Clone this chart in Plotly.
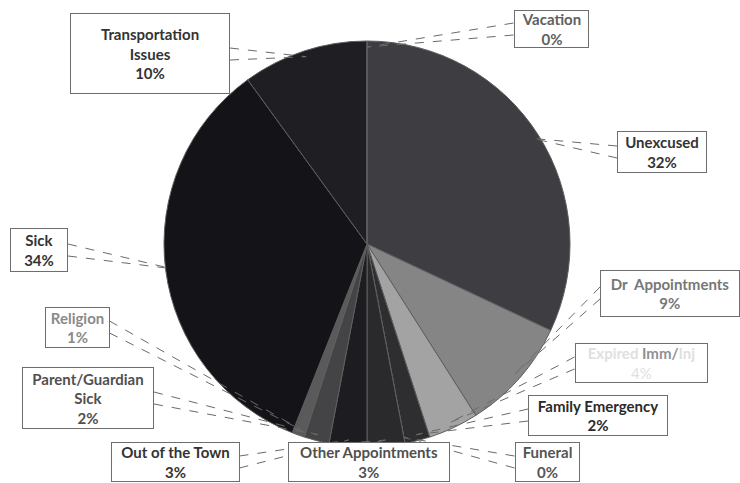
import math
import plotly.graph_objects as go

# ---- data ----
categories = ["Unexcused", "Dr  Appointments", "Expired Imm/Inj", "Family Emergency", "Funeral",
              "Other Appointments", "Out of the Town", "Parent/Guardian Sick", "Religion",
              "Sick", "Transportation Issues", "Vacation"]
values = [32, 9, 4, 2, 0, 3, 3, 2, 1, 34, 10, 0]
label_text = ["Unexcused", "Dr  Appointments",
              "<span style='color:#e0e0e0'>Expired</span> Imm/<span style='color:#e0e0e0'>Inj</span>",
              "Family Emergency", "Funeral", "Other Appointments", "Out of the Town",
              "Parent/Guardian<br>Sick", "Religion", "Sick", "Transportation<br>Issues", "Vacation"]
slice_colors = ["#3d3d42", "#858585", "#a3a3a3", "#2e2e30", "#333333", "#2a2a2d",
                "#1d1d21", "#444446", "#5a5a5a", "#141418", "#1f1f23", "#333333"]
text_colors = ["#333333", "#777777", "#909090", "#2a2a2a", "#555555", "#505050", "#333333",
               "#505050", "#8a8a8a", "#333333", "#333333", "#606060"]

# ---- layout (pixels, top-down) ----
W, H = 740, 483
CX, CY, R = 367, 244, 203
# box centre x, centre y, width, height, side where leader attaches
boxes = [
    (662, 152, 90, 42, "left"),
    (670, 293, 140, 47, "left"),
    (641, 363, 133, 40, "left"),
    (598, 415, 140, 41, "left"),
    (547, 462, 65, 40, "left"),
    (369, 462, 162, 40, "top"),
    (175, 462, 129, 40, "right"),
    (88, 398, 132, 62, "right"),
    (77, 327, 65, 41, "right"),
    (39, 250, 58, 44, "right"),
    (150, 54, 160, 81, "right"),
    (551, 29, 75, 38, "left"),
]

fig = go.Figure()
fig.add_trace(go.Pie(
    labels=categories, values=values, sort=False, direction="clockwise", rotation=0,
    marker=dict(colors=slice_colors, line=dict(color="#5e5e5e", width=1)),
    textinfo="none", hoverinfo="label+percent", showlegend=False,
    domain=dict(x=[(CX - R) / W, (CX + R) / W], y=[(H - CY - R) / H, (H - CY + R) / H]),
))

total = sum(values)
cum = 0.0
shapes = []
annotations = []
for i, v in enumerate(values):
    mid = (cum + v / 2) / total
    cum += v
    th = 2 * math.pi * mid
    px = CX + R * 0.97 * math.sin(th)
    py = CY - R * 0.97 * math.cos(th)
    bx, by, bw, bh, side = boxes[i]
    if side == "left":
        ends = [(bx - bw / 2, by - 6), (bx - bw / 2, by + 6)]
    elif side == "right":
        ends = [(bx + bw / 2, by - 6), (bx + bw / 2, by + 6)]
    else:
        ends = [(bx - 8, by - bh / 2), (bx + 8, by - bh / 2)]
    for ex, ey in ends:
        shapes.append(dict(type="line", xref="paper", yref="paper",
                           x0=ex / W, y0=1 - ey / H, x1=px / W, y1=1 - py / H,
                           line=dict(color="#6a6a6a", width=1, dash="dash")))
    pct = f"{round(100 * v / total)}%"
    txt = f"<b>{label_text[i]}<br>{pct}</b>"
    if i == 2:
        txt = f"<b>{label_text[i]}</b><br><span style='color:#e0e0e0'>{pct}</span>"
    annotations.append(dict(
        x=bx / W, y=1 - by / H, xref="paper", yref="paper", xanchor="center", yanchor="middle",
        text=txt, showarrow=False, align="center",
        width=bw - 6, height=bh - 6, borderpad=2,
        bordercolor="#6e6e6e", borderwidth=1, bgcolor="#ffffff",
        font=dict(family="Lato", size=15, color=text_colors[i]),
    ))

fig.update_layout(
    width=W, height=H, margin=dict(l=0, r=0, t=0, b=0),
    paper_bgcolor="#ffffff", plot_bgcolor="#ffffff",
    shapes=shapes, annotations=annotations,
)
fig.write_html("out.html")
